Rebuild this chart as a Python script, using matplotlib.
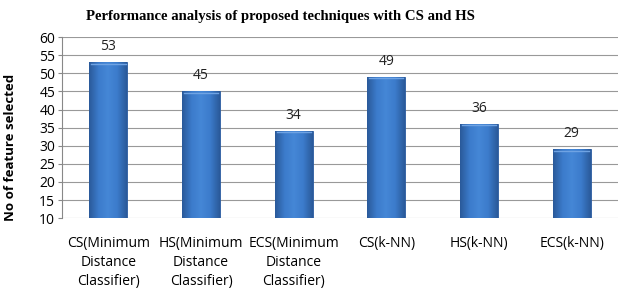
import numpy as np
import matplotlib.pyplot as plt
from matplotlib.colors import LinearSegmentedColormap

categories = ["CS(Minimum\nDistance\nClassifier)", "HS(Minimum\nDistance\nClassifier)",
              "ECS(Minimum\nDistance\nClassifier)", "CS(k-NN)", "HS(k-NN)", "ECS(k-NN)"]
values = [53, 45, 34, 49, 36, 29]

fig = plt.figure(figsize=(6.21, 2.92), dpi=100)
ax = fig.add_axes([0.1, 0.253, 0.895, 0.62])

x = np.arange(len(categories))
bars = ax.bar(x, values, width=0.41, bottom=0, color="#3A75C4",
              edgecolor="#2A5A9E", linewidth=0.6, zorder=2)

# cylinder-like shading inside each bar
cmap = LinearSegmentedColormap.from_list("bar", ["#2A5A9A", "#3C7BCB", "#4587D6", "#3C7BCB", "#2A5A9A"])
grad = np.linspace(0, 1, 64).reshape(1, -1)
for b in bars:
    x0, w, h = b.get_x(), b.get_width(), b.get_height()
    im = ax.imshow(grad, cmap=cmap, aspect="auto", extent=[x0, x0 + w, 10, h], zorder=3)
    im.set_clip_path(b)
    ax.plot([x0 + 0.02, x0 + w - 0.02], [h - 0.35, h - 0.35], color="#6FA3E3", lw=1.0, zorder=4)

for xi, v in zip(x, values):
    ax.text(xi, v + 2.3, str(v), ha="center", va="bottom", fontsize=10,
            family="Open Sans", color="#222222")

ax.set_ylim(10, 60)
ax.set_xlim(-0.5, len(categories) - 0.5)
ax.set_yticks(range(10, 61, 5))
ax.set_xticks(x)
ax.set_xticklabels(categories, fontsize=10, family="Open Sans", linespacing=1.35)
ax.tick_params(axis="x", length=0, pad=13)
ax.tick_params(axis="y", labelsize=10, length=3, color="#888888", pad=2)
for lab in ax.get_yticklabels():
    lab.set_family("Open Sans")
ax.yaxis.grid(True, color="#999999", linewidth=0.8, zorder=0)
ax.set_axisbelow(True)
for s in ["top", "right", "bottom"]:
    ax.spines[s].set_visible(False)
ax.spines["left"].set_color("#888888")

ax.set_ylabel("No of feature selected", fontsize=9.5, fontweight="bold", family="Open Sans")
ax.yaxis.set_label_coords(-0.082, 0.39)
fig.suptitle("Performance analysis of proposed techniques with CS and HS", x=0.451, y=0.965,
             fontsize=10.6, fontweight="bold", family="Liberation Serif")

plt.savefig("out.png", dpi=100)
